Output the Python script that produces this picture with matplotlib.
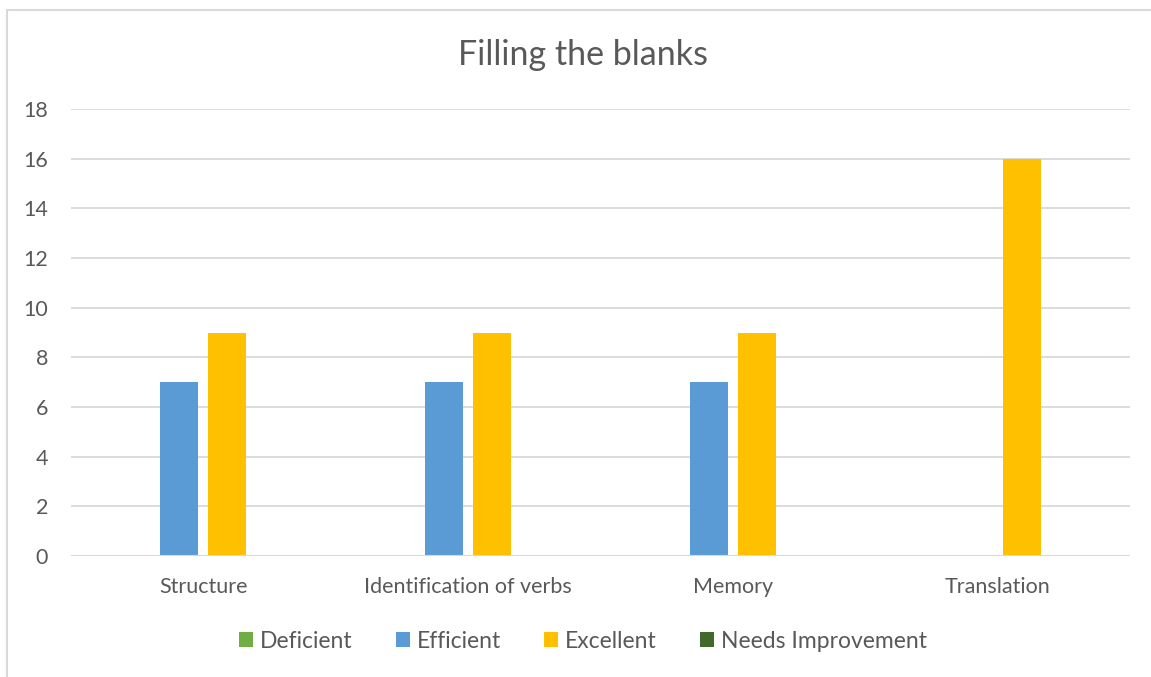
import matplotlib
matplotlib.use("Agg")
import matplotlib.pyplot as plt
import numpy as np
from matplotlib.patches import Rectangle

# data
categories = ["Structure", "Identification of verbs", "Memory", "Translation"]
series = ["Deficient", "Efficient", "Excellent", "Needs Improvement"]
deficient = [0, 0, 0, 0]
efficient = [7, 7, 7, 0]
excellent = [9, 9, 9, 16]
needs_improvement = [0, 0, 0, 0]
yticks = [0, 2, 4, 6, 8, 10, 12, 14, 16, 18]

values = [deficient, efficient, excellent, needs_improvement]
colors = ["#70AD47", "#5B9BD5", "#FFC000", "#43682B"]

plt.rcParams['font.family'] = ['Lato', 'DejaVu Sans']
text_col = "#595959"

fig = plt.figure(figsize=(11.51, 6.77), dpi=100)
ax = fig.add_axes([71/1151, 1 - 556/677, 1059/1151, 447/677])

x = np.arange(len(categories))
slot = 0.181
width = 0.1435
for i, (name, vals, c) in enumerate(zip(series, values, colors)):
    ax.bar(x + (i - 1.5) * slot, vals, width, color=c, label=name, zorder=3)

ax.set_xlim(-0.5, len(categories) - 0.5)
ax.set_ylim(0, 18)
ax.set_yticks(yticks)
ax.set_xticks(x)
ax.set_xticklabels(categories)
ax.grid(axis='y', color="#D9D9D9", linewidth=1.3, zorder=0)
for s in ax.spines.values():
    s.set_visible(False)
ax.axhline(0, color="#D9D9D9", linewidth=1.5, zorder=4)
ax.tick_params(length=0, colors=text_col, labelsize=15.5)
ax.tick_params(axis='y', pad=16.5)
ax.tick_params(axis='x', pad=15)

fig.text(583/1151, 1 - 55/677, "Filling the blanks", ha='center', va='center',
         fontsize=24.5, color=text_col)

fig.legend(loc='center', bbox_to_anchor=(583/1151, 1 - 641/677), ncol=4,
           frameon=False, fontsize=16.5, handlelength=0.6, handleheight=0.6,
           handletextpad=0.3, columnspacing=1.9, labelcolor=text_col)

# chart area border (right/bottom edges fall outside the picture)
fig.patches.append(Rectangle((7/1151, -0.1), 1.2, 1 - 10/677 + 0.1,
                             transform=fig.transFigure, fill=False,
                             edgecolor="#D9D9D9", linewidth=1.5))

fig.savefig("out.png", dpi=100)
